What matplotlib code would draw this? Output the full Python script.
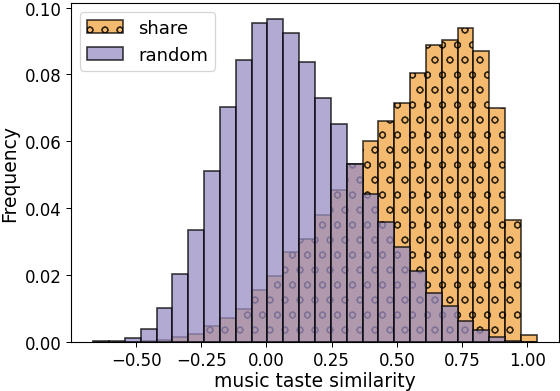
import numpy as np
import matplotlib
matplotlib.use("Agg")
import matplotlib.pyplot as plt

# bin edges shared by both histograms (28 bins)
bin_lo = -0.664
bin_hi = 1.036
n_bins = 28

# frequency per bin
share = [0.0, 0.0, 0.0, 0.0001, 0.0004, 0.0013, 0.0024, 0.0047, 0.0072, 0.0098,
         0.0155, 0.0197, 0.0267, 0.0308, 0.0379, 0.0455, 0.0532, 0.0601, 0.0661, 0.0715,
         0.0804, 0.0887, 0.0902, 0.0938, 0.0870, 0.0700, 0.0365, 0.0021]
random = [0.0001, 0.0003, 0.0012, 0.0038, 0.0100, 0.0203, 0.0335, 0.0512, 0.0703, 0.0843,
          0.0954, 0.0967, 0.0925, 0.0838, 0.0729, 0.0651, 0.0533, 0.0442, 0.0357, 0.0284,
          0.0210, 0.0145, 0.0106, 0.0061, 0.0036, 0.0015, 0.0002, 0.0]

edges = np.linspace(bin_lo, bin_hi, n_bins + 1)
widths = np.diff(edges)

# drawn at 90 dpi so the hatch circles get the same spacing as the original
DPI = 90
k = 100 / DPI
plt.rcParams['font.size'] = 12 * k
plt.rcParams['xtick.major.size'] = 3.5 * k
plt.rcParams['ytick.major.size'] = 3.5 * k
plt.rcParams['xtick.major.pad'] = 3.5 * k
plt.rcParams['ytick.major.pad'] = 3.5 * k
plt.rcParams['axes.linewidth'] = 0.8 * k
plt.rcParams['hatch.linewidth'] = 1.0

fig, ax = plt.subplots(figsize=(560 / DPI, 392 / DPI), dpi=DPI)
ax.bar(edges[:-1], share, width=widths, align='edge', color='#f1a340', alpha=0.75,
       edgecolor='black', linewidth=1.2 * k, hatch='o', label='share')
ax.bar(edges[:-1], random, width=widths, align='edge', color='#998ec3', alpha=0.75,
       edgecolor='black', linewidth=1.2 * k, label='random')

ax.set_xlabel('music taste similarity', fontsize=13.5 * k, labelpad=1.5 * k)
ax.set_ylabel('Frequency', fontsize=13.5 * k, labelpad=4 * k)
ax.legend(loc='upper left', fontsize=13 * k)
ax.set_xticks([-0.5, -0.25, 0, 0.25, 0.5, 0.75, 1.0])

fig.subplots_adjust(left=0.127, right=0.998, top=0.991, bottom=0.126)
fig.savefig('out.png', dpi=DPI)
